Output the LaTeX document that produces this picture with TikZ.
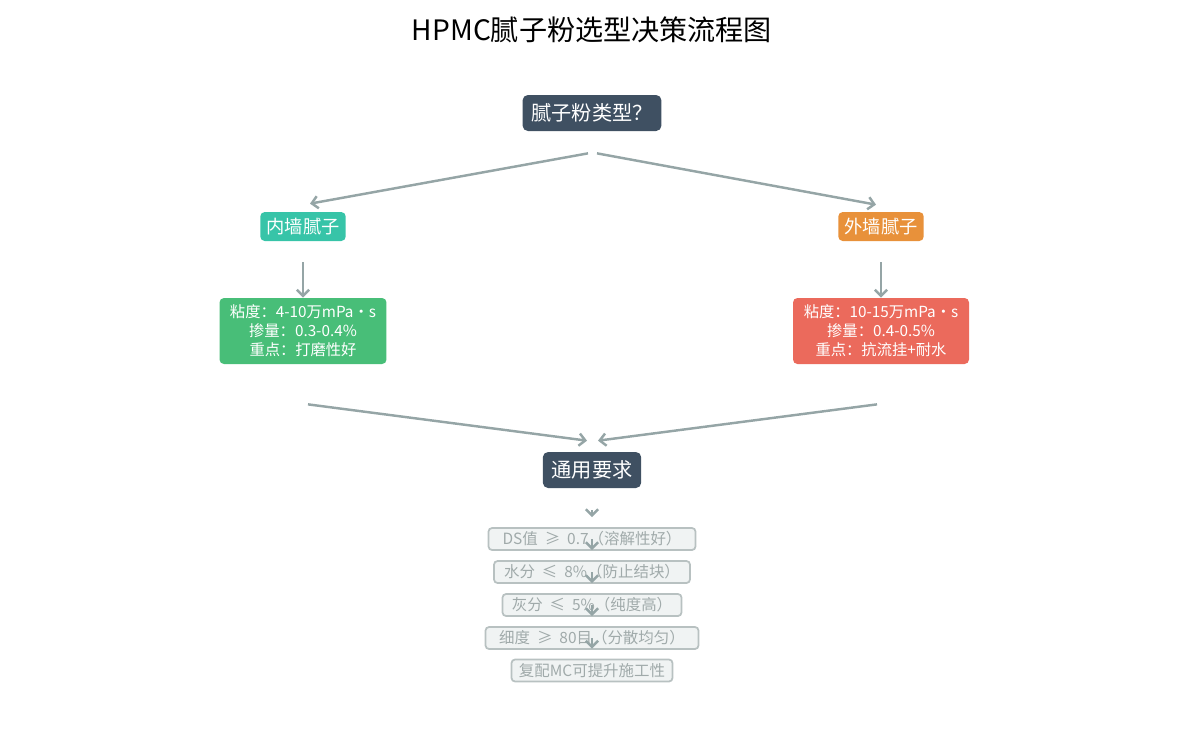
\documentclass[tikz,border=0pt]{standalone}
\usepackage{fontspec}
\setmainfont{Noto Sans CJK SC}
\usetikzlibrary{arrows.meta}
\definecolor{darknode}{HTML}{3F5062}
\definecolor{tealnode}{HTML}{37C4A8}
\definecolor{orangenode}{HTML}{E8913A}
\definecolor{greennode}{HTML}{48BE78}
\definecolor{rednode}{HTML}{EB6A5C}
\definecolor{arrowgray}{HTML}{95A5A6}
\definecolor{reqfill}{HTML}{F0F3F3}
\definecolor{reqline}{HTML}{B8C1C1}
\definecolor{reqtext}{HTML}{A0AAAA}
\newcommand{\gap}{\hspace{0.45em}}
\begin{document}
\begin{tikzpicture}[x=0.02cm,y=-0.02cm,
  flow/.style={-{Straight Barb[length=3.5pt,width=7pt]}, line width=1.4pt, draw=arrowgray},
  dark/.style={fill=darknode, text=white, rounded corners=3pt, font=\fontsize{11.5}{14}\selectfont, inner xsep=5pt, minimum height=0.72cm},
  kind/.style={fill=#1, text=white, rounded corners=2.5pt, font=\fontsize{10.4}{12}\selectfont, inner xsep=3.5pt, minimum height=0.58cm},
  spec/.style={fill=#1, text=white, rounded corners=2.5pt, align=center, font=\fontsize{8.7}{10.8}\selectfont, inner xsep=3pt, minimum height=1.32cm},
  req/.style={fill=reqfill, draw=reqline, line width=1pt, text=reqtext, rounded corners=2pt, font=\fontsize{8.8}{10}\selectfont, inner xsep=3pt, inner ysep=0pt, minimum height=0.44cm}
]
  \useasboundingbox (0,0) rectangle (1185,735);

  \node[font=\fontsize{16}{18}\selectfont] (title) at (592,30) {HPMC腻子粉选型决策流程图};

  \node[dark] (q) at (592,113) {腻子粉类型？};
  \node[kind=tealnode] (inner) at (303,226.5) {内墙腻子};
  \node[kind=orangenode] (outer) at (881,226.5) {外墙腻子};

  \node[spec=greennode, minimum width=3.34cm] (ispec) at (303,331) {粘度：4-10万mPa・s\\掺量：0.3-0.4\%\\重点：打磨性好};
  \node[spec=rednode, minimum width=3.52cm] (ospec) at (881,331) {粘度：10-15万mPa・s\\掺量：0.4-0.5\%\\重点：抗流挂+耐水};

  \node[dark] (gen) at (592,470) {通用要求};

  \node[req, minimum width=4.14cm] (r1) at (592,539) {DS值\gap ≥\gap 0.7（溶解性好）};
  \node[req, minimum width=3.92cm] (r2) at (592,572) {水分\gap ≤\gap 8\%（防止结块）};
  \node[req, minimum width=3.58cm] (r3) at (592,605) {灰分\gap ≤\gap 5\%（纯度高）};
  \node[req, minimum width=4.26cm] (r4) at (592,638) {细度\gap ≥\gap 80目（分散均匀）};
  \node[req, minimum width=3.22cm] (r5) at (592,670.5) {复配MC可提升施工性};

  \draw[flow] ([shift={(-4,22)}]q.south) -- ([shift={(7,-8)}]inner.north);
  \draw[flow] ([shift={(5,22)}]q.south) -- ([shift={(-5,-7)}]outer.north);
  \draw[flow, shorten <=0.42cm] (inner) -- (ispec);
  \draw[flow, shorten <=0.42cm] (outer) -- (ospec);
  \draw[flow] ([shift={(5,40)}]ispec.south) -- ([shift={(-5,-11)}]gen.north);
  \draw[flow] ([shift={(-4,40)}]ospec.south) -- ([shift={(6,-11)}]gen.north);

  \draw[flow] ([shift={(0,22)}]gen.south) -- ([shift={(0,-10)}]r1.north);
  \draw[flow] (r1.center) -- ([shift={(0,-10)}]r2.north);
  \draw[flow] (r2.center) -- ([shift={(0,-10)}]r3.north);
  \draw[flow] (r3.center) -- ([shift={(0,-10)}]r4.north);
  \draw[flow] (r4.center) -- ([shift={(0,-10)}]r5.north);
\end{tikzpicture}
\end{document}
